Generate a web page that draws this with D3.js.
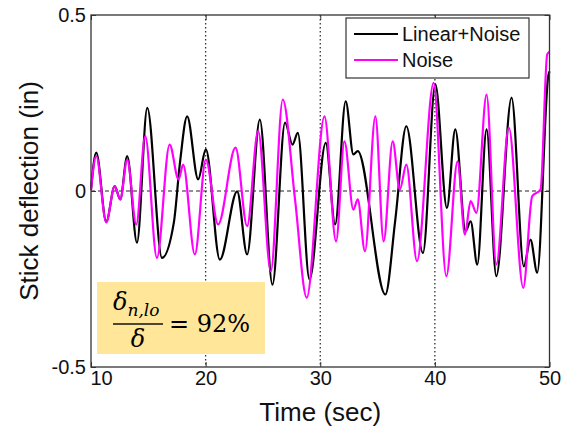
<!DOCTYPE html>
<html>
<head>
<meta charset="utf-8">
<script src="https://cdn.jsdelivr.net/npm/d3@7"></script>
<style>
  body { margin: 0; background: #fff; }
  text { font-family: "Liberation Sans", Arial, sans-serif; }
</style>
</head>
<body>
<div id="chart"></div>
<script>
// Chart size
const width = 565;
const height = 429;
const margin = {left: 91, right: 15, top: 15, bottom: 62};

// Data (peaks and troughs of each trace)
const timeLN = [10, 10.46, 11.33, 12.07, 12.55, 13.16, 14.01, 14.91, 16.19, 17.23, 17.76, 18.39, 19.35, 20.02, 21.24, 22.75, 23.62, 24.73, 25.83, 26.93, 27.58, 28.04, 29.06, 30.48, 31.3, 32.22, 32.89, 33.27, 35.68, 36.55, 37.51, 38.96, 40.04, 41.05, 41.78, 42.68, 43.12, 43.7, 44.51, 45.36, 46.69, 47.76, 48.34, 48.93, 49.89, 50];
const valueLN = [0.004, 0.109, -0.087, 0.014, -0.024, 0.099, -0.147, 0.236, -0.19, -0.089, 0.08, 0.212, 0.033, 0.118, -0.195, -0.001, -0.18, 0.203, -0.266, 0.194, 0.132, 0.165, -0.251, 0.137, -0.095, 0.255, 0.104, 0.113, -0.294, -0.081, 0.184, -0.176, 0.303, -0.048, 0.175, -0.114, -0.086, -0.209, 0.175, -0.242, 0.265, -0.214, -0.138, -0.232, 0.326, 0.34];

const timeN = [10, 10.46, 11.33, 12.07, 12.55, 13.16, 13.95, 14.73, 15.75, 16.86, 17.64, 18.04, 19.06, 20.02, 21.09, 22.61, 23.62, 24.58, 25.69, 26.73, 27.8, 28.82, 30.37, 31.38, 32.11, 32.89, 33.27, 33.9, 34.81, 35.53, 36.32, 36.94, 37.51, 38.44, 39.89, 41.0, 41.98, 42.62, 43.12, 43.62, 44.51, 45.36, 46.45, 47.71, 48.49, 49.22, 49.8, 50];
const valueN = [0.004, 0.099, -0.089, 0.014, -0.024, 0.089, -0.095, 0.156, -0.19, 0.132, 0.033, 0.075, -0.18, 0.089, -0.095, 0.123, -0.1, 0.17, -0.228, 0.26, -0.024, -0.303, 0.212, -0.143, 0.141, -0.053, -0.024, -0.171, 0.212, -0.143, 0.141, 0.004, 0.075, -0.199, 0.307, -0.242, 0.084, -0.124, -0.029, -0.062, 0.274, -0.209, 0.18, -0.275, -0.015, 0.004, 0.388, 0.396];

const xTicks = [10, 20, 30, 40, 50];
const yTicks = [-0.5, 0, 0.5];
const seriesNames = ["Linear+Noise", "Noise"];
const seriesColors = ["#000000", "#ff00ff"];

const svg = d3.select("#chart").append("svg")
              .attr("width", width)
              .attr("height", height)

const x = d3.scaleLinear().domain([10, 50]).range([margin.left, width - margin.right - 0.5]);
const y = d3.scaleLinear().domain([-0.5, 0.5]).range([height - margin.bottom, margin.top]);

// Grid lines: dotted at the inner x ticks, dashed at zero
svg.selectAll(".vgrid")
   .data(xTicks.slice(1, -1))
   .enter().append("line")
   .attr("x1", d => x(d)).attr("x2", d => x(d))
   .attr("y1", y(0.5)).attr("y2", y(-0.5))
   .attr("stroke", "#333").attr("stroke-width", 1.3)
   .attr("stroke-dasharray", "1.5,2.5")

svg.append("line")
   .attr("x1", x(10)).attr("x2", x(50))
   .attr("y1", y(0)).attr("y2", y(0))
   .attr("stroke", "#222").attr("stroke-width", 1.2)
   .attr("stroke-dasharray", "4,3")

// Traces
const line = d3.line()
               .x(d => x(d[0]))
               .y(d => y(d[1]))
               .curve(d3.curveMonotoneX)

const traces = [d3.zip(timeLN, valueLN), d3.zip(timeN, valueN)];

svg.selectAll(".trace")
   .data(traces)
   .enter().append("path")
   .attr("d", line)
   .attr("fill", "none")
   .attr("stroke", (d, i) => seriesColors[i])
   .attr("stroke-width", 2.2)
   .attr("stroke-linejoin", "round")

// Axes with inward ticks, MATLAB style
const axisFont = "20px";
const xAxis = svg.append("g")
   .attr("transform", "translate(0," + y(-0.5) + ")")
   .call(d3.axisBottom(x).tickValues(xTicks).tickSizeInner(-5).tickSizeOuter(0).tickPadding(6))
xAxis.select(".domain").remove()
xAxis.selectAll("text").style("font-size", axisFont).attr("fill", "#111").attr("dy", "0.62em")
// the first label sits just right of the axis corner, clear of "-0.5"
xAxis.selectAll("text").filter(d => d === 10).attr("dx", 10)

const xTop = svg.append("g")
   .attr("transform", "translate(0," + y(0.5) + ")")
   .call(d3.axisTop(x).tickValues(xTicks).tickSizeInner(-5).tickSizeOuter(0).tickFormat(""))
xTop.select(".domain").remove()

const yAxis = svg.append("g")
   .attr("transform", "translate(" + x(10) + ",0)")
   .call(d3.axisLeft(y).tickValues(yTicks).tickSizeInner(-5).tickSizeOuter(0).tickPadding(5).tickFormat(d => String(d)))
yAxis.select(".domain").remove()
yAxis.selectAll("text").style("font-size", axisFont).attr("fill", "#111")

const yRight = svg.append("g")
   .attr("transform", "translate(" + x(50) + ",0)")
   .call(d3.axisRight(y).tickValues(yTicks).tickSizeInner(-5).tickSizeOuter(0).tickFormat(""))
yRight.select(".domain").remove()

svg.selectAll(".tick line").attr("stroke", "#333")

// Plot box
svg.append("rect")
   .attr("x", x(10)).attr("y", y(0.5))
   .attr("width", x(50) - x(10)).attr("height", y(-0.5) - y(0.5))
   .attr("fill", "none").attr("stroke", "#333").attr("stroke-width", 1.3)

// Axis titles
svg.append("text")
   .attr("x", (x(10) + x(50)) / 2).attr("y", 421)
   .attr("text-anchor", "middle")
   .style("font-size", "26px").attr("fill", "#111")
   .text("Time (sec)")

svg.append("text")
   .attr("transform", "translate(38," + y(0) + ") rotate(-90)")
   .attr("text-anchor", "middle")
   .style("font-size", "26px").attr("fill", "#111")
   .text("Stick deflection (in)")

// Legend
const legend = svg.append("g").attr("transform", "translate(346,18)")
legend.append("rect")
      .attr("width", 183).attr("height", 60)
      .attr("fill", "#fff").attr("stroke", "#333").attr("stroke-width", 1.2)

const legendItem = legend.selectAll(".item")
      .data(seriesNames)
      .enter().append("g")
      .attr("transform", (d, i) => "translate(0," + (16 + i * 26) + ")")

legendItem.append("line")
      .attr("x1", 8).attr("x2", 52)
      .attr("stroke", (d, i) => seriesColors[i]).attr("stroke-width", 2.2)

legendItem.append("text")
      .attr("x", 56).attr("dy", "0.36em")
      .style("font-size", "20px").attr("fill", "#111")
      .text(d => d)

// Ratio annotation box
const note = svg.append("g").attr("transform", "translate(97,282)")
note.append("rect")
    .attr("width", 168).attr("height", 72)
    .attr("fill", "#ffe699")

const serif = "'DejaVu Serif', 'Liberation Serif', serif";
const num = note.append("text").attr("x", 16).attr("y", 28)
                .style("font-family", serif).style("font-style", "italic").style("font-size", "24px")
num.append("tspan").text("δ")
num.append("tspan").attr("dy", 6).style("font-size", "17px").text("n,lo")

note.append("line")
    .attr("x1", 16).attr("x2", 66).attr("y1", 42).attr("y2", 42)
    .attr("stroke", "#111").attr("stroke-width", 1.3)

note.append("text").attr("x", 41).attr("y", 65).attr("text-anchor", "middle")
    .style("font-family", serif).style("font-style", "italic").style("font-size", "24px")
    .text("δ")

note.append("text").attr("x", 72).attr("y", 50)
    .style("font-family", serif).style("font-size", "24px")
    .text("= 92%")
</script>
</body>
</html>
